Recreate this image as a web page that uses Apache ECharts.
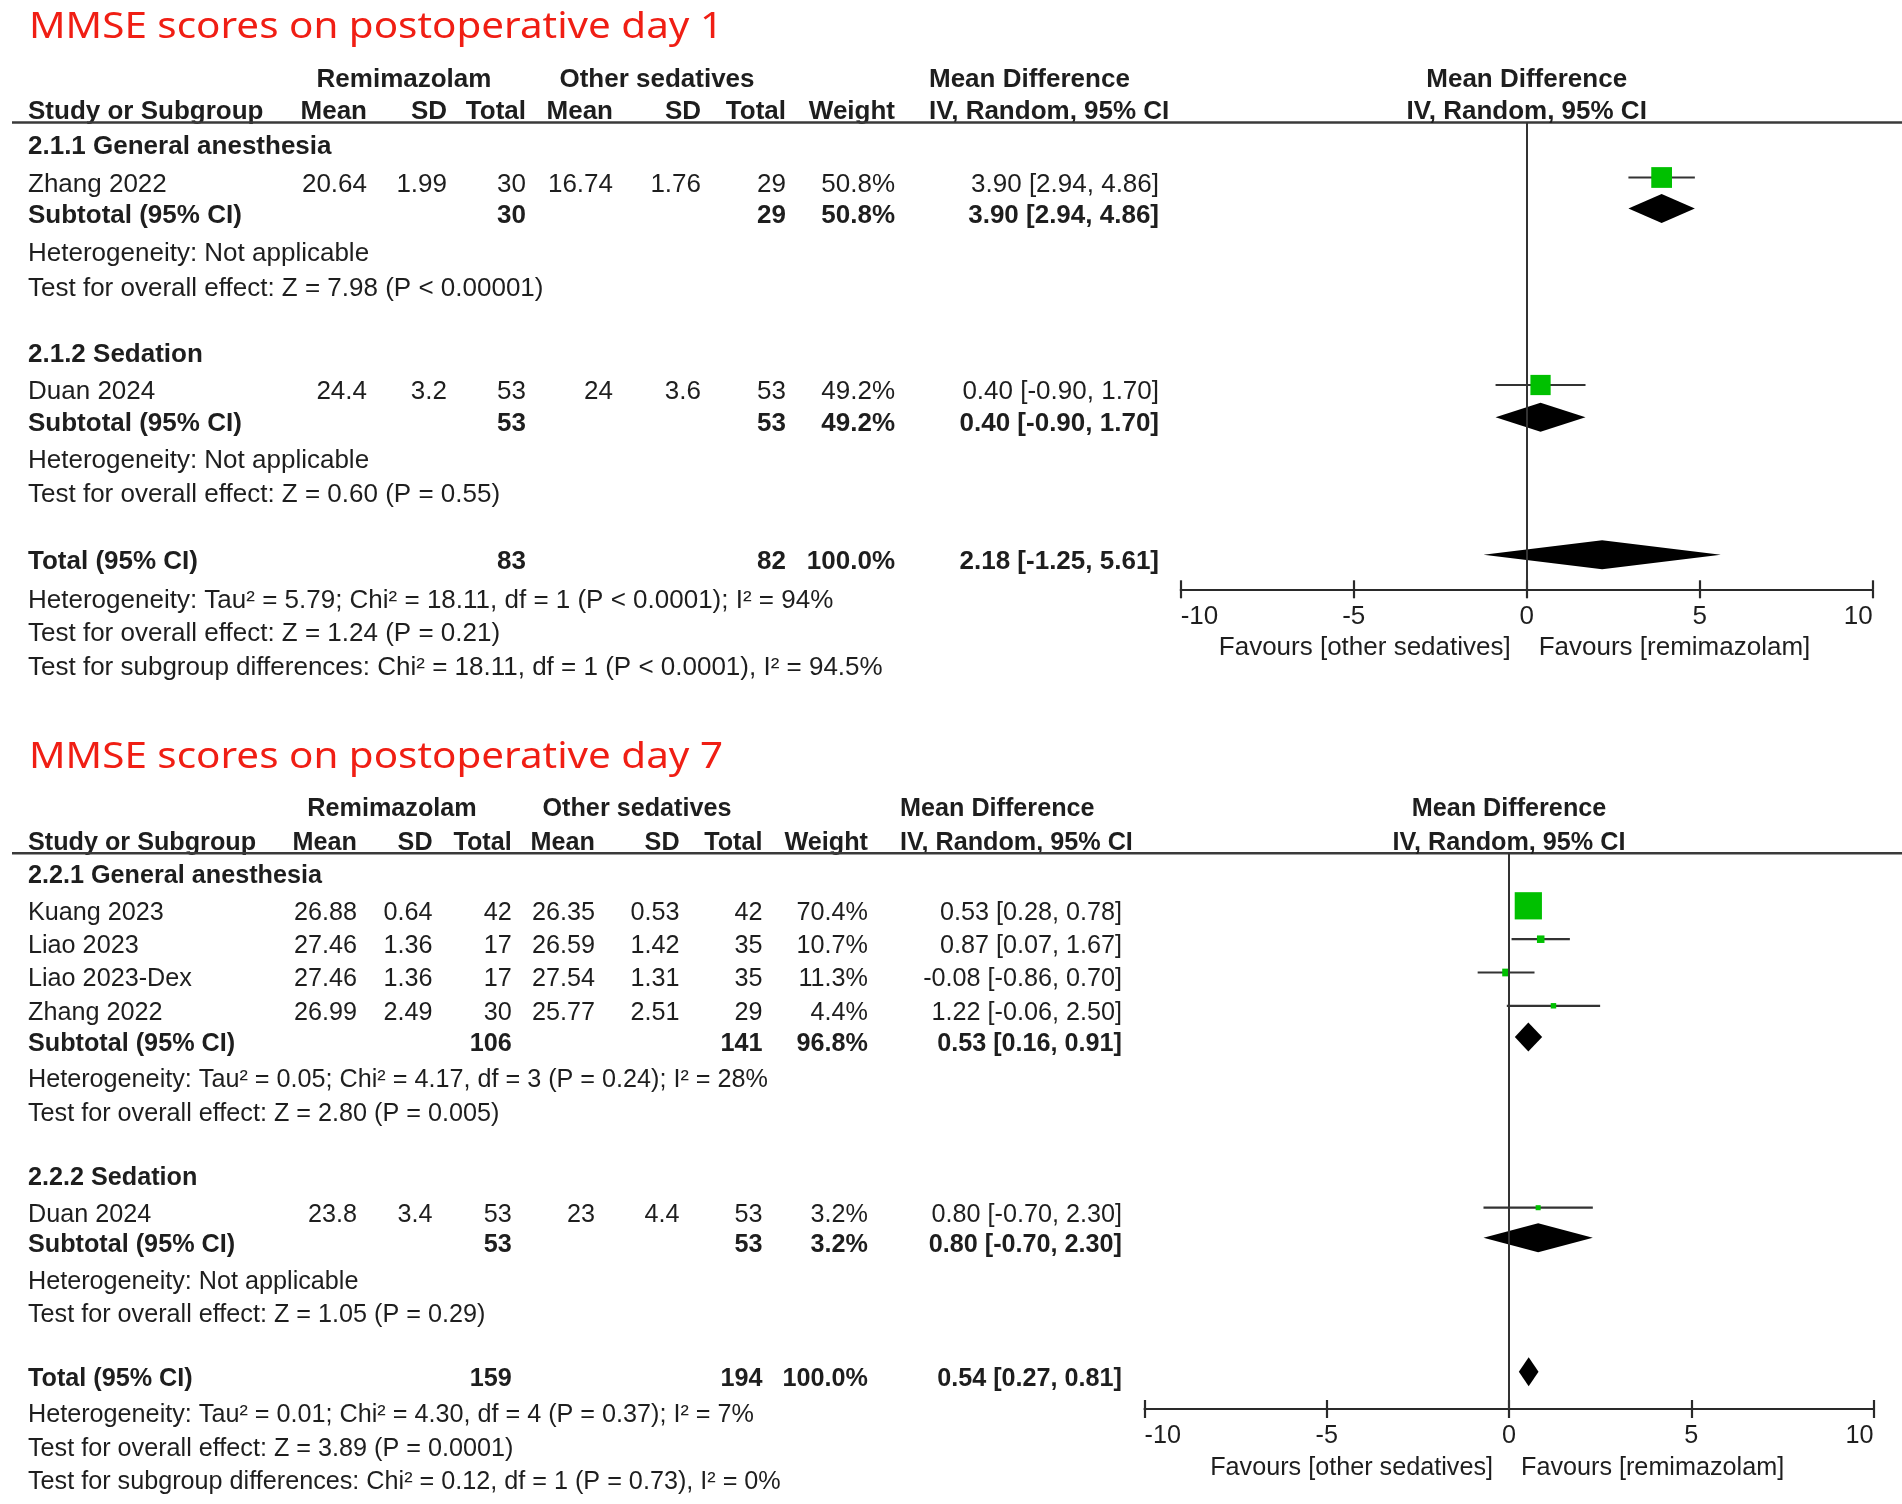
<!DOCTYPE html>
<html>
<head>
<meta charset="utf-8">
<script src="https://cdn.jsdelivr.net/npm/echarts@6/dist/echarts.min.js"></script>
<style>html,body{margin:0;padding:0;background:#fff}</style>
</head>
<body>
<div id="main" style="width:1902px;height:1504px"></div>
<script>
// ---------- data ----------
// study rows: group, study, remi mean, remi SD, remi total, other mean, other SD, other total, weight %, MD, lower, upper
var day1Groups = ['2.1.1 General anesthesia', '2.1.2 Sedation'];
var day1Studies = [
  [0, 'Zhang 2022', 20.64, 1.99, 30, 16.74, 1.76, 29, 50.8, 3.90, 2.94, 4.86],
  [1, 'Duan 2024', 24.4, 3.2, 53, 24, 3.6, 53, 49.2, 0.40, -0.90, 1.70]
];
// subtotal rows: remi total, other total, weight %, MD, lower, upper
var day1Subtotals = [
  [30, 29, 50.8, 3.90, 2.94, 4.86],
  [53, 53, 49.2, 0.40, -0.90, 1.70]
];
var day1GroupNotes = [
  ['Heterogeneity: Not applicable', 'Test for overall effect: Z = 7.98 (P < 0.00001)'],
  ['Heterogeneity: Not applicable', 'Test for overall effect: Z = 0.60 (P = 0.55)']
];
var day1Total = [83, 82, 100.0, 2.18, -1.25, 5.61];
var day1TotalNotes = [
  'Heterogeneity: Tau\u00b2 = 5.79; Chi\u00b2 = 18.11, df = 1 (P < 0.0001); I\u00b2 = 94%',
  'Test for overall effect: Z = 1.24 (P = 0.21)',
  'Test for subgroup differences: Chi\u00b2 = 18.11, df = 1 (P < 0.0001), I\u00b2 = 94.5%'
];

var day7Groups = ['2.2.1 General anesthesia', '2.2.2 Sedation'];
var day7Studies = [
  [0, 'Kuang 2023', 26.88, 0.64, 42, 26.35, 0.53, 42, 70.4, 0.53, 0.28, 0.78],
  [0, 'Liao 2023', 27.46, 1.36, 17, 26.59, 1.42, 35, 10.7, 0.87, 0.07, 1.67],
  [0, 'Liao 2023-Dex', 27.46, 1.36, 17, 27.54, 1.31, 35, 11.3, -0.08, -0.86, 0.70],
  [0, 'Zhang 2022', 26.99, 2.49, 30, 25.77, 2.51, 29, 4.4, 1.22, -0.06, 2.50],
  [1, 'Duan 2024', 23.8, 3.4, 53, 23, 4.4, 53, 3.2, 0.80, -0.70, 2.30]
];
var day7Subtotals = [
  [106, 141, 96.8, 0.53, 0.16, 0.91],
  [53, 53, 3.2, 0.80, -0.70, 2.30]
];
var day7GroupNotes = [
  ['Heterogeneity: Tau\u00b2 = 0.05; Chi\u00b2 = 4.17, df = 3 (P = 0.24); I\u00b2 = 28%', 'Test for overall effect: Z = 2.80 (P = 0.005)'],
  ['Heterogeneity: Not applicable', 'Test for overall effect: Z = 1.05 (P = 0.29)']
];
var day7Total = [159, 194, 100.0, 0.54, 0.27, 0.81];
var day7TotalNotes = [
  'Heterogeneity: Tau\u00b2 = 0.01; Chi\u00b2 = 4.30, df = 4 (P = 0.37); I\u00b2 = 7%',
  'Test for overall effect: Z = 3.89 (P = 0.0001)',
  'Test for subgroup differences: Chi\u00b2 = 0.12, df = 1 (P = 0.73), I\u00b2 = 0%'
];

var axisMin = -10, axisMax = 10, axisStep = 5;
var favourLeft = 'Favours [other sedatives]';
var favourRight = 'Favours [remimazolam]';

// ---------- layout ----------
var FONT = '"Liberation Sans", Arial, sans-serif';
var TXT = '#1e1e1e';
var panels = [
  {
    title: 'MMSE scores on postoperative day 1',
    groups: day1Groups, studies: day1Studies, subtotals: day1Subtotals,
    notes: day1GroupNotes, total: day1Total, totalNotes: day1TotalNotes,
    fontSize: 26,
    titleY: 27.5, head1Y: 79.5, head2Y: 112, lineY: 122.5, axisY: 589.3, favY: 648,
    rowY: [146.7, 184.5, 215.5, 254, 289, 354.7, 392, 424.2, 461.2, 495, 561.7, 600.5, 634, 667.5],
    cols: [367, 447, 526, 613, 701, 786, 895, 1159],
    remX: 404, othX: 657, mdX: 929,
    fLeft: 1180.7, fRight: 1872.7
  },
  {
    title: 'MMSE scores on postoperative day 7',
    groups: day7Groups, studies: day7Studies, subtotals: day7Subtotals,
    notes: day7GroupNotes, total: day7Total, totalNotes: day7TotalNotes,
    fontSize: 25.2,
    titleY: 758, head1Y: 809.5, head2Y: 842.8, lineY: 853.3, axisY: 1409, favY: 1468,
    rowY: [876, 912.8, 946.2, 979.5, 1012.8, 1044, 1080, 1114, 1177.8, 1214.7, 1244.8, 1281.7, 1315.5, 1378.8, 1415.3, 1449.2, 1482.5],
    cols: [357, 432.6, 511.7, 595, 679.6, 762.5, 868, 1122],
    remX: 392, othX: 637, mdX: 900,
    fLeft: 1144.5, fRight: 1873.5
  }
];

var measureCtx = document.createElement('canvas').getContext('2d');
function fitScale(text, font, target) {
  measureCtx.font = font;
  return target / measureCtx.measureText(text).width;
}
function ciText(md, lo, hi) {
  return md.toFixed(2) + ' [' + lo.toFixed(2) + ', ' + hi.toFixed(2) + ']';
}

var cells = [];   // table text, drawn on the full-page grid
var rules = [];   // header rules

panels.forEach(function (p) {
  function cell(x, y, text, align, bold, extra) {
    var c = { x: x, y: y, text: String(text), align: align || 'left',
      font: (bold ? 'bold ' : '') + p.fontSize + 'px ' + FONT, color: TXT, sx: 1 };
    if (extra) for (var k in extra) c[k] = extra[k];
    cells.push(c);
  }
  var titleFont = '36px "Noto Sans", sans-serif';
  cell(29, p.titleY, p.title, 'left', false, {
    font: titleFont, color: '#f01e14', sx: fitScale(p.title, titleFont, 694)
  });
  var c = p.cols;
  cell(p.remX, p.head1Y, 'Remimazolam', 'center', true);
  cell(p.othX, p.head1Y, 'Other sedatives', 'center', true);
  cell(p.mdX, p.head1Y, 'Mean Difference', 'left', true);
  cell(28, p.head2Y, 'Study or Subgroup', 'left', true);
  ['Mean', 'SD', 'Total', 'Mean', 'SD', 'Total', 'Weight'].forEach(function (h, i) {
    cell(c[i], p.head2Y, h, 'right', true);
  });
  cell(p.mdX, p.head2Y, 'IV, Random, 95% CI', 'left', true);
  rules.push([12, p.lineY, 1902, p.lineY]);

  p.forest = [];
  var r = 0;
  p.groups.forEach(function (g, gi) {
    cell(28, p.rowY[r++], g, 'left', true);
    p.studies.forEach(function (s) {
      if (s[0] !== gi) return;
      var y = p.rowY[r++];
      cell(28, y, s[1]);
      for (var i = 0; i < 6; i++) cell(c[i], y, s[2 + i], 'right');
      cell(c[6], y, s[8].toFixed(1) + '%', 'right');
      cell(c[7], y, ciText(s[9], s[10], s[11]), 'right');
      p.forest.push({ kind: 'study', md: s[9], lo: s[10], hi: s[11], y: y, w: s[8] });
    });
    var st = p.subtotals[gi], ys = p.rowY[r++];
    cell(28, ys, 'Subtotal (95% CI)', 'left', true);
    cell(c[2], ys, st[0], 'right', true);
    cell(c[5], ys, st[1], 'right', true);
    cell(c[6], ys, st[2].toFixed(1) + '%', 'right', true);
    cell(c[7], ys, ciText(st[3], st[4], st[5]), 'right', true);
    p.forest.push({ kind: 'diamond', md: st[3], lo: st[4], hi: st[5], y: ys });
    p.notes[gi].forEach(function (n) { cell(28, p.rowY[r++], n); });
  });
  var t = p.total, yt = p.rowY[r++];
  cell(28, yt, 'Total (95% CI)', 'left', true);
  cell(c[2], yt, t[0], 'right', true);
  cell(c[5], yt, t[1], 'right', true);
  cell(c[6], yt, t[2].toFixed(1) + '%', 'right', true);
  cell(c[7], yt, ciText(t[3], t[4], t[5]), 'right', true);
  p.forest.push({ kind: 'diamond', md: t[3], lo: t[4], hi: t[5], y: yt });
  p.totalNotes.forEach(function (n) { cell(28, p.rowY[r++], n); });

  // texts anchored on the forest axis (x = 0)
  p.axisTexts = [
    { y: p.head1Y, text: 'Mean Difference', align: 'center', dx: 0, bold: true },
    { y: p.head2Y, text: 'IV, Random, 95% CI', align: 'center', dx: 0, bold: true },
    { y: p.favY, text: favourLeft, align: 'right', dx: -16, bold: false },
    { y: p.favY, text: favourRight, align: 'left', dx: 12, bold: false }
  ];
});

// ---------- chart ----------
var grids = [{ left: 0, top: 0, width: 1902, height: 1504 }];
var xAxes = [{ type: 'value', gridIndex: 0, min: 0, max: 1902, show: false }];
var yAxes = [{ type: 'value', gridIndex: 0, min: 0, max: 1504, inverse: true, show: false }];
var series = [
  {
    type: 'custom', xAxisIndex: 0, yAxisIndex: 0, clip: false, silent: true,
    data: cells.map(function (c) { return [c.x, c.y]; }),
    renderItem: function (params, api) {
      var c = cells[params.dataIndex];
      var pt = api.coord([c.x, c.y]);
      return {
        type: 'text', x: pt[0], y: pt[1], scaleX: c.sx,
        style: { text: c.text, font: c.font, fill: c.color, align: c.align, verticalAlign: 'middle' }
      };
    }
  },
  {
    type: 'custom', xAxisIndex: 0, yAxisIndex: 0, clip: false, silent: true,
    data: rules.map(function (l) { return l; }),
    renderItem: function (params, api) {
      var a = api.coord([api.value(0), api.value(1)]);
      var b = api.coord([api.value(2), api.value(3)]);
      return { type: 'line', shape: { x1: a[0], y1: a[1], x2: b[0], y2: b[1] },
        style: { stroke: '#3a3a3a', lineWidth: 2.4 } };
    }
  }
];

panels.forEach(function (p, pi) {
  var gi = pi + 1;
  var fs = p.fontSize;
  grids.push({ left: p.fLeft, top: p.lineY, width: p.fRight - p.fLeft, height: p.axisY - p.lineY });
  var xi = xAxes.length;
  xAxes.push({
    type: 'value', gridIndex: gi, position: 'bottom', min: axisMin, max: axisMax, interval: axisStep,
    splitLine: { show: false },
    axisLine: { show: true, onZero: false, lineStyle: { color: '#2a2a2a', width: 2.2 } },
    axisTick: { show: true, length: 9, lineStyle: { color: '#2a2a2a', width: 2.2 } },
    axisLabel: { margin: 15, color: TXT, fontSize: fs, fontFamily: FONT,
      alignMinLabel: 'left', alignMaxLabel: 'right' }
  });
  xAxes.push({
    type: 'value', gridIndex: gi, position: 'bottom', min: axisMin, max: axisMax, interval: axisStep,
    splitLine: { show: false }, axisLabel: { show: false },
    axisLine: { show: false, onZero: false },
    axisTick: { show: true, inside: true, length: 9, lineStyle: { color: '#2a2a2a', width: 2.2 } }
  });
  var yi = yAxes.length;
  yAxes.push({ type: 'value', gridIndex: gi, min: p.lineY, max: p.axisY, inverse: true, show: false });

  var items = p.forest;
  series.push({
    type: 'custom', xAxisIndex: xi, yAxisIndex: yi, clip: false, silent: true,
    data: items.map(function (it) { return [it.md, it.lo, it.hi, it.y]; }),
    encode: { x: [0, 1, 2], y: 3 },
    renderItem: function (params, api) {
      var it = items[params.dataIndex];
      var ym = it.y - 7;
      var c = api.coord([it.md, ym]);
      var l = api.coord([it.lo, ym]);
      var r = api.coord([it.hi, ym]);
      if (it.kind === 'study') {
        var s = 4 + 0.33 * it.w;
        return { type: 'group', children: [
          { type: 'line', shape: { x1: l[0], y1: c[1], x2: r[0], y2: c[1] },
            style: { stroke: '#333', lineWidth: 2.2 } },
          { type: 'rect', shape: { x: c[0] - s / 2, y: c[1] - s / 2, width: s, height: s },
            style: { fill: '#00c000' } }
        ] };
      }
      var h = 14.5;
      return { type: 'polygon',
        shape: { points: [[l[0], c[1]], [c[0], c[1] - h], [r[0], c[1]], [c[0], c[1] + h]] },
        style: { fill: '#000' } };
    },
    markLine: {
      silent: true, symbol: ['none', 'none'], label: { show: false },
      lineStyle: { color: '#333', width: 2, type: 'solid' },
      data: [{ xAxis: 0 }]
    }
  });

  var texts = p.axisTexts;
  series.push({
    type: 'custom', xAxisIndex: xi, yAxisIndex: yi, clip: false, silent: true,
    data: texts.map(function (t) { return [0, t.y]; }),
    renderItem: function (params, api) {
      var t = texts[params.dataIndex];
      var pt = api.coord([api.value(0), api.value(1)]);
      return { type: 'text', x: pt[0] + t.dx, y: pt[1],
        style: { text: t.text, font: (t.bold ? 'bold ' : '') + fs + 'px ' + FONT, fill: TXT,
          align: t.align, verticalAlign: 'middle' } };
    }
  });
});

var chart = echarts.init(document.getElementById('main'), null, { renderer: 'canvas' });
chart.setOption({
  backgroundColor: '#fff',
  animation: false,
  grid: grids,
  xAxis: xAxes,
  yAxis: yAxes,
  series: series
});
</script>
</body>
</html>
